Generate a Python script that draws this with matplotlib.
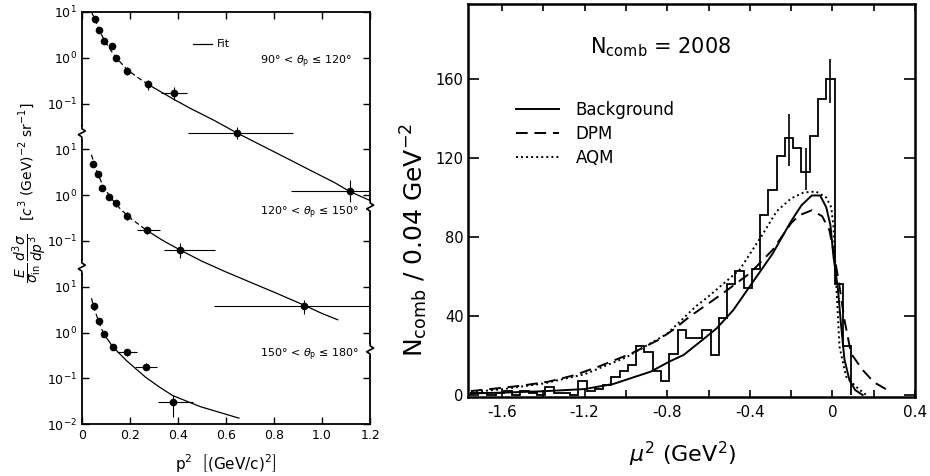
import numpy as np
import matplotlib.pyplot as plt
from matplotlib.transforms import blended_transform_factory
from matplotlib.ticker import FixedLocator, NullLocator


# ---- left panel: invariant cross sections, three angular bins ----
# 90 < theta <= 120
p1_x = [0.054, 0.071, 0.092, 0.124, 0.144, 0.188, 0.277, 0.382, 0.644, 1.115]
p1_xlo = [0.054, 0.071, 0.092, 0.124, 0.144, 0.188, 0.277, 0.33, 0.44, 0.87]
p1_xhi = [0.054, 0.071, 0.092, 0.124, 0.144, 0.188, 0.277, 0.437, 0.88, 1.2]
p1_y = [6.9, 4.1, 2.3, 1.8, 1.0, 0.51, 0.26, 0.17, 0.023, 0.0012]
p1_ylo = [6.0, 3.6, 2.0, 1.55, 0.87, 0.42, 0.20, 0.12, 0.017, 0.0007]
p1_yhi = [7.9, 4.7, 2.6, 2.1, 1.15, 0.62, 0.33, 0.23, 0.031, 0.0021]
fit1_x = [0.04, 0.054, 0.071, 0.092, 0.12, 0.15, 0.19, 0.25, 0.30, 0.38,
          0.45, 0.55, 0.644, 0.75, 0.85, 0.95, 1.05, 1.115, 1.2]
fit1_y = [10.0, 6.9, 4.2, 2.5, 1.45, 0.91, 0.54, 0.32, 0.22, 0.126,
          0.079, 0.043, 0.023, 0.012, 0.0065, 0.0035, 0.0019, 0.0012, 0.00076]

# 120 < theta <= 150
p2_x = [0.047, 0.066, 0.082, 0.113, 0.141, 0.187, 0.27, 0.41, 0.923]
p2_xlo = [0.047, 0.066, 0.082, 0.113, 0.141, 0.187, 0.229, 0.34, 0.55]
p2_xhi = [0.047, 0.066, 0.082, 0.113, 0.141, 0.187, 0.326, 0.556, 1.2]
p2_y = [4.8, 2.9, 1.4, 0.89, 0.66, 0.35, 0.17, 0.062, 0.0037]
p2_ylo = [4.2, 2.5, 1.2, 0.77, 0.56, 0.29, 0.14, 0.043, 0.0026]
p2_yhi = [5.5, 3.3, 1.6, 1.02, 0.77, 0.42, 0.20, 0.09, 0.0052]
fit2_x = [0.04, 0.06, 0.08, 0.10, 0.13, 0.16, 0.20, 0.27, 0.34, 0.41,
          0.50, 0.60, 0.70, 0.80, 0.923, 1.0, 1.065]
fit2_y = [7.6, 3.5, 2.0, 1.26, 0.76, 0.50, 0.32, 0.17, 0.10, 0.063,
          0.036, 0.021, 0.0126, 0.0076, 0.0040, 0.0026, 0.0019]

# 150 < theta <= 180
p3_x = [0.05, 0.07, 0.091, 0.131, 0.187, 0.266, 0.378]
p3_xlo = [0.05, 0.07, 0.091, 0.131, 0.145, 0.222, 0.315]
p3_xhi = [0.05, 0.07, 0.091, 0.131, 0.229, 0.312, 0.463]
p3_y = [3.7, 1.74, 0.91, 0.49, 0.37, 0.18, 0.030]
p3_ylo = [3.2, 1.5, 0.78, 0.42, 0.31, 0.15, 0.0145]
p3_yhi = [4.3, 2.0, 1.06, 0.57, 0.44, 0.22, 0.044]
fit3_x = [0.04, 0.05, 0.07, 0.09, 0.13, 0.187, 0.266, 0.32, 0.378, 0.494, 0.654]
fit3_y = [5.6, 3.5, 1.74, 0.95, 0.48, 0.24, 0.105, 0.066, 0.042, 0.024, 0.0135]

panel_labels = ["90° < $\\theta_{\\rm p}$ ≤ 120°",
                "120° < $\\theta_{\\rm p}$ ≤ 150°",
                "150° < $\\theta_{\\rm p}$ ≤ 180°"]
panel_ticklabels = ["$10^{-2}$", "$10^{-1}$", "$10^{0}$", "$10^{1}$",
                    "$10^{-1}$", "$10^{0}$", "$10^{1}$",
                    "$10^{-1}$", "$10^{0}$", "$10^{1}$"]

# ---- right panel: mu^2 distribution ----
hist_start = -1.75
bin_width = 0.04
hist_counts = [1, 1, 0, 1, 2, 0, 2, 1, 0, 4, 1, 1, 0, 7, 2, 3, 5, 9, 12, 15,
               25, 22, 12, 7, 21, 33, 29, 29, 33, 20, 39, 56, 63, 54, 64, 91,
               104, 121, 130, 125, 113, 131, 150, 160, 56, 25]
err_x = [-0.21, -0.13, -0.01]
err_lo = [116, 104, 148]
err_hi = [142, 125, 170]

bg_x = [-1.75, -1.6, -1.4, -1.2, -1.06, -0.93, -0.88, -0.79, -0.72, -0.61,
        -0.56, -0.51, -0.48, -0.40, -0.29, -0.2, -0.15, -0.1, -0.06, -0.03,
        -0.01, 0.005, 0.026, 0.042, 0.058, 0.082, 0.11, 0.146]
bg_y = [0.8, 1.2, 1.9, 3.0, 5.6, 10.1, 11.8, 16.9, 20.3, 29.5,
        33.8, 39.5, 43, 55, 71.5, 88, 96, 101, 101, 95,
        86, 70, 54, 35, 18, 7.6, 2.5, 0]
dpm_x = [-1.75, -1.62, -1.5, -1.375, -1.25, -1.134, -0.972, -0.844, -0.771,
         -0.69, -0.61, -0.53, -0.40, -0.29, -0.2, -0.16, -0.1, -0.05, -0.015,
         0.01, 0.034, 0.058, 0.09, 0.146, 0.2, 0.26]
dpm_y = [2.0, 3.4, 4.8, 6.75, 10, 14.3, 21.1, 27.8, 33,
         39.8, 45.6, 51.5, 61.6, 73.4, 87, 91, 93.5, 90.5, 83.5,
         70, 55, 38, 21, 12.7, 6.5, 2.9]
aqm_x = [-1.75, -1.6, -1.4, -1.2, -1.0, -0.8, -0.66, -0.61, -0.45, -0.34,
         -0.27, -0.2, -0.14, -0.08, -0.03, -0.006, 0.005, 0.018, 0.034,
         0.066, 0.114, 0.163]
aqm_y = [1.5, 2.9, 5.8, 10.5, 19, 31, 45, 49, 63.3, 81,
         93, 99.5, 102.5, 103, 100, 95, 85, 56.5, 24.5,
         9.3, 4.2, 0]
n_comb = 2008


def zigzag(ax, xa, ylog):
    trans = blended_transform_factory(ax.transAxes, ax.transData)
    ys = 10 ** (ylog + np.array([0.09, 0.04, -0.04, -0.09]))
    ax.plot([xa, xa], [ys[0], ys[-1]], color="white", lw=3,
            transform=trans, clip_on=False, zorder=5)
    ax.plot([xa, xa, xa + 0.012, xa - 0.012, xa, xa],
            [10 ** (ylog + 0.16), ys[0], ys[1], ys[2], ys[3], 10 ** (ylog - 0.16)],
            color="black", lw=1.2, transform=trans, clip_on=False, zorder=6)


fig = plt.figure(figsize=(9.3, 4.76), dpi=100)

# ---------------- left panel ----------------
ax1 = fig.add_axes([0.088, 0.109, 0.310, 0.866])
scales = [1e6, 1e3, 1.0]
dash_end = [0.30, 0.27, 0.09]
sets = [
    (p1_x, p1_xlo, p1_xhi, p1_y, p1_ylo, p1_yhi, fit1_x, fit1_y),
    (p2_x, p2_xlo, p2_xhi, p2_y, p2_ylo, p2_yhi, fit2_x, fit2_y),
    (p3_x, p3_xlo, p3_xhi, p3_y, p3_ylo, p3_yhi, fit3_x, fit3_y),
]
for (x, xlo, xhi, y, ylo, yhi, fx, fy), s, de in zip(sets, scales, dash_end):
    x = np.array(x)
    y = np.array(y) * s
    ax1.errorbar(x, y,
                 xerr=[x - np.array(xlo), np.array(xhi) - x],
                 yerr=[y - np.array(ylo) * s, np.array(yhi) * s - y],
                 fmt="o", ms=4.5, color="black", elinewidth=0.8, capsize=0)
    fx = np.array(fx)
    fy = np.array(fy) * s
    m1 = fx <= de
    m2 = fx >= de
    ax1.plot(fx[m1], fy[m1], color="black", lw=0.9, ls=(0, (4, 2.5)))
    ax1.plot(fx[m2], fy[m2], color="black", lw=0.9)

ax1.set_yscale("log")
ax1.set_xlim(0, 1.2)
ax1.set_ylim(1e-2, 1e7)
ax1.yaxis.set_major_locator(FixedLocator([10.0 ** k for k in range(-2, 8)]))
ax1.yaxis.set_minor_locator(NullLocator())
ax1.set_yticklabels(panel_ticklabels)
ax1.set_xticks([0, 0.2, 0.4, 0.6, 0.8, 1.0, 1.2])
ax1.set_xticklabels(["0", "0.2", "0.4", "0.6", "0.8", "1.0", "1.2"])
ax1.tick_params(which="both", direction="in", top=True, right=True,
                length=5, width=1.0, labelsize=9)
for sp in ax1.spines.values():
    sp.set_linewidth(1.3)

ax1.set_xlabel(r"p$^2$  $\left[(\mathrm{GeV/c})^2\right]$", fontsize=11)
ax1.xaxis.label.set_va("center")
ax1.xaxis.set_label_coords(0.5, -0.095)
ax1.set_ylabel(r"$\dfrac{E}{\sigma_{\rm in}}\,\dfrac{d^3\sigma}{dp^3}$"
               r"$\quad\left[c^3\ (\mathrm{GeV})^{-2}\ \mathrm{sr}^{-1}\right]$",
               fontsize=10)
ax1.yaxis.set_label_coords(-0.115, 0.56)

ax1.plot([0.385, 0.451], [0.922, 0.922], color="black", lw=0.9,
         transform=ax1.transAxes)
ax1.text(0.469, 0.922, "Fit", fontsize=8, va="center", transform=ax1.transAxes)
for lab, ya in zip(panel_labels, [0.879, 0.512, 0.167]):
    ax1.text(0.618, ya, lab, fontsize=8, va="center", transform=ax1.transAxes)

for yl in [4.36, 1.43]:
    zigzag(ax1, 0.0, yl)
for yl in [2.74, -0.38]:
    zigzag(ax1, 1.0, yl)

# ---------------- right panel ----------------
ax2 = fig.add_axes([0.503, 0.166, 0.481, 0.826])
edges = hist_start + bin_width * np.arange(len(hist_counts) + 1)
ax2.stairs(hist_counts, edges, color="black", lw=1.3, baseline=0)
ax2.vlines(err_x, err_lo, err_hi, color="black", lw=1.2)
ax2.plot(bg_x, bg_y, color="black", lw=1.4, label="Background")
ax2.plot(dpm_x, dpm_y, color="black", lw=1.4, ls=(0, (6, 3.5)), label="DPM")
ax2.plot(aqm_x, aqm_y, color="black", lw=1.4, ls=(0, (1, 1.6)), label="AQM")

ax2.set_xlim(-1.765, 0.4)
ax2.set_ylim(-1, 198)
xt = [-1.6, -1.4, -1.2, -1.0, -0.8, -0.6, -0.4, -0.2, 0.0, 0.2, 0.4]
xl = ["-1.6", "", "-1.2", "", "-0.8", "", "-0.4", "", "0", "", "0.4"]
ax2.set_xticks(xt)
ax2.set_xticklabels(xl)
ax2.set_yticks([0, 40, 80, 120, 160])
ax2.tick_params(axis="x", which="both", direction="in", top=True,
                length=5, width=1.2, labelsize=11, pad=6)
ax2.tick_params(axis="y", which="both", direction="in", right=True,
                length=8, width=1.2, labelsize=10.5, pad=3)
for sp in ax2.spines.values():
    sp.set_linewidth(1.8)

ax2.set_xlabel(r"$\mu^2$ (GeV$^2$)", fontsize=16)
ax2.xaxis.set_label_coords(0.48, -0.11)
ax2.set_ylabel(r"N$_{\rm comb}$ / 0.04 GeV$^{-2}$", fontsize=18)
ax2.yaxis.set_label_coords(-0.085, 0.40)

ax2.text(0.43, 0.89, r"N$_{\rm comb}$ = %d" % n_comb, fontsize=15,
         ha="center", va="center", transform=ax2.transAxes)
ax2.legend(loc="upper left", bbox_to_anchor=(0.092, 0.77), frameon=False,
           fontsize=12, handlelength=2.6, handletextpad=1.0,
           labelspacing=0.35, borderaxespad=0)

fig.savefig("out.png", dpi=100)
